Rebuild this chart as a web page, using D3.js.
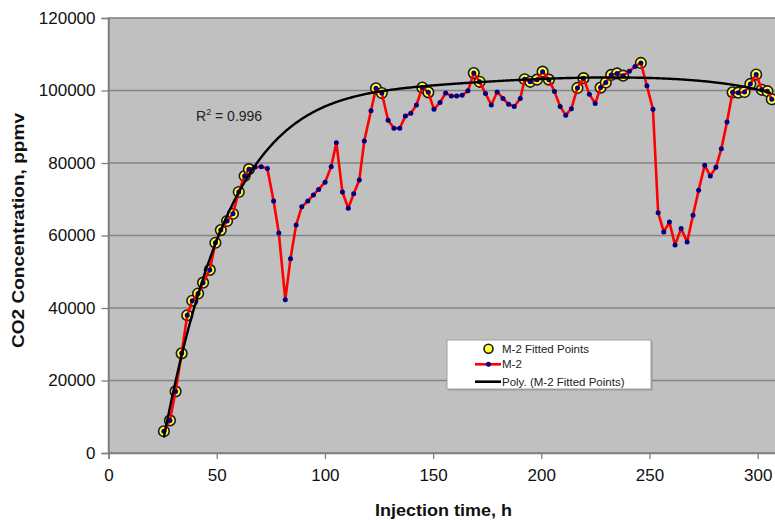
<!DOCTYPE html>
<html><head><meta charset="utf-8">
<script src="https://cdn.jsdelivr.net/npm/d3@7"></script>
<style>
html,body{margin:0;padding:0;background:#fff;}
svg{display:block;font-family:"Liberation Sans",Arial,sans-serif;}
</style></head><body>
<svg id="chart" width="775" height="521"></svg>
<script>
// M-2 monitoring well: CO2 concentration vs injection time
const hours = [25.6, 28.4, 31.0, 33.8, 36.4, 38.7, 41.4, 43.7, 46.8, 49.4, 51.9, 54.8, 57.5, 60.2, 62.9, 64.9, 67.6,
  70.6, 73.4, 76.3, 78.7, 81.7, 84.1, 86.7, 89.3, 92.1, 94.7, 97.1, 100.1, 102.9, 105.3, 108.1, 110.8, 113.3, 115.9, 118.2,
  121.3, 123.6, 126.3, 129.2, 131.9, 134.6, 137.2, 139.7, 142.3, 145.0, 147.8, 150.4, 153.2, 155.8, 158.4, 160.9, 163.4, 166.1,
  168.8, 171.5, 174.2, 176.9, 179.6, 182.3, 184.9, 187.5, 190.3, 192.3, 194.9, 198.0, 200.6, 203.5, 206.1, 208.7, 211.3, 213.9,
  216.7, 219.5, 222.2, 224.9, 227.4, 229.8, 232.3, 235.0, 237.8, 240.7, 243.3, 246.0, 248.8, 251.6, 254.0, 256.6, 259.2, 261.8,
  264.6, 267.4, 270.1, 272.7, 275.5, 278.1, 280.7, 283.2, 285.8, 288.4, 291.0, 293.9, 296.6, 299.3, 301.9, 304.5, 306.5];
const co2 = [6000, 9000, 17000, 27500, 38000, 42000, 44000, 47000, 50500, 58000, 61500, 64000, 66000, 72000, 76400, 78300, 78800,
  79000, 78500, 69500, 60700, 42300, 53600, 62900, 67900, 69500, 71200, 72700, 74700, 79000, 85600, 72000, 67500, 71500, 75300, 86100,
  94400, 100600, 99300, 91800, 89600, 89600, 93000, 93700, 96000, 100800, 99500, 94800, 96700, 99300, 98500, 98500, 98700, 99900,
  104800, 102400, 99200, 96000, 99600, 97800, 96200, 95600, 97800, 103100, 102400, 103000, 105200, 103000, 99700, 95600, 93200, 95000,
  100700, 103400, 99000, 96400, 100800, 102200, 104300, 104700, 104100, 105300, 106600, 107600, 101300, 94800, 66300, 61000, 63700, 57400,
  61900, 58200, 65600, 72500, 79400, 76400, 78800, 83900, 91300, 99500, 99400, 99600, 101800, 104400, 100200, 99800, 97600];

// Points selected for the polynomial trend
const fittedHours = [25.6, 28.4, 31.0, 33.8, 36.4, 38.7, 41.4, 43.7, 46.8, 49.4, 51.9, 54.8, 57.5, 60.2, 62.9, 64.9,
  123.6, 126.3, 145.0, 147.8, 168.8, 171.5, 192.3, 194.9, 198.0, 200.6, 203.5, 216.7, 219.5, 227.4, 229.8, 232.3, 235.0, 237.8,
  246.0, 288.4, 291.0, 293.9, 296.6, 299.3, 301.9, 304.5, 306.5];
const fittedCO2 = [6000, 9000, 17000, 27500, 38000, 42000, 44000, 47000, 50500, 58000, 61500, 64000, 66000, 72000, 76400, 78300,
  100600, 99300, 100800, 99500, 104800, 102400, 103100, 102400, 103000, 105200, 103000, 100700, 103400, 100800, 102200, 104300, 104700, 104100,
  107600, 99500, 99400, 99600, 101800, 104400, 100200, 99800, 97600];

const xTicks = [0, 50, 100, 150, 200, 250, 300];
const yTicks = [0, 20000, 40000, 60000, 80000, 100000, 120000];
const polyOrder = 6;
const rSquaredText = "0.996";
const legendLabels = ["M-2 Fitted Points", "M-2", "Poly. (M-2 Fitted Points)"];

const svg = d3.select("#chart");
const plot = {left: 108.5, top: 18, right: 865.9, bottom: 453};
const x = d3.scaleLinear().domain([0, 350]).range([plot.left, plot.right]);
const y = d3.scaleLinear().domain([0, 120000]).range([plot.bottom, plot.top]);

// least-squares polynomial trend through the selected points
function polyFit(xs, ys, order) {
  const cx = d3.mean(xs), sx = (d3.max(xs) - d3.min(xs)) / 2;
  const n = order + 1;
  const A = Array.from({length: n}, () => new Array(n + 1).fill(0));
  xs.forEach((xv, k) => {
    const t = (xv - cx) / sx;
    const p = d3.range(n).map(i => Math.pow(t, i));
    for (let i = 0; i < n; i++) {
      for (let j = 0; j < n; j++) A[i][j] += p[i] * p[j];
      A[i][n] += p[i] * ys[k];
    }
  });
  for (let c = 0; c < n; c++) {
    let piv = c;
    for (let r = c + 1; r < n; r++) if (Math.abs(A[r][c]) > Math.abs(A[piv][c])) piv = r;
    [A[c], A[piv]] = [A[piv], A[c]];
    for (let r = 0; r < n; r++) {
      if (r === c) continue;
      const f = A[r][c] / A[c][c];
      for (let k = c; k <= n; k++) A[r][k] -= f * A[c][k];
    }
  }
  const coef = d3.range(n).map(i => A[i][n] / A[i][i]);
  return h => {
    const t = (h - cx) / sx;
    let s = 0;
    for (let i = n - 1; i >= 0; i--) s = s * t + coef[i];
    return s;
  };
}

// plot area and gridlines
svg.append("rect")
  .attr("x", plot.left).attr("y", plot.top)
  .attr("width", plot.right - plot.left).attr("height", plot.bottom - plot.top)
  .attr("fill", "#c0c0c0").attr("stroke", "#7f7f7f").attr("stroke-width", 1.5);

svg.append("g").selectAll("line").data(yTicks.slice(1, -1)).join("line")
  .attr("x1", plot.left).attr("x2", plot.right)
  .attr("y1", d => y(d)).attr("y2", d => y(d))
  .attr("stroke", "#858585").attr("stroke-width", 1.6);

// axes
const xAxis = svg.append("g").attr("transform", `translate(0,${plot.bottom})`)
  .call(d3.axisBottom(x).tickValues(xTicks).tickSize(6).tickPadding(10).tickFormat(d3.format("d")));
const yAxis = svg.append("g").attr("transform", `translate(${plot.left},0)`)
  .call(d3.axisLeft(y).tickValues(yTicks).tickSize(7).tickPadding(6).tickFormat(d3.format("d")));
[xAxis, yAxis].forEach(g => {
  g.select(".domain").attr("stroke", "#7f7f7f").attr("stroke-width", 1.5);
  g.selectAll(".tick line").attr("stroke", "#7f7f7f").attr("stroke-width", 1.3);
  g.selectAll(".tick text").attr("fill", "#111").attr("font-size", 17)
    .attr("font-family", "Liberation Sans, Arial, sans-serif");
});

// axis titles
svg.append("text")
  .attr("x", 443.5).attr("y", 516).attr("text-anchor", "middle")
  .attr("font-size", 17).attr("font-weight", "bold").attr("fill", "#111")
  .attr("textLength", 137).attr("lengthAdjust", "spacingAndGlyphs")
  .text("Injection time, h");
svg.append("text")
  .attr("transform", "translate(24,230.5) rotate(-90)").attr("text-anchor", "middle")
  .attr("font-size", 17).attr("font-weight", "bold").attr("fill", "#111")
  .attr("textLength", 235).attr("lengthAdjust", "spacingAndGlyphs")
  .text("CO2 Concentration, ppmv");

// series
const m2 = hours.map((h, i) => [h, co2[i]]);
const fitted = fittedHours.map((h, i) => [h, fittedCO2[i]]);
const g = svg.append("g");

g.selectAll("circle.fit").data(fitted).join("circle").attr("class", "fit")
  .attr("cx", d => x(d[0])).attr("cy", d => y(d[1])).attr("r", 5.3)
  .attr("fill", "#ffff33").attr("stroke", "#1a1a1a").attr("stroke-width", 1.6);

g.append("path").datum(m2)
  .attr("fill", "none").attr("stroke", "#ff0000").attr("stroke-width", 2.6).attr("stroke-linejoin", "round")
  .attr("d", d3.line().x(d => x(d[0])).y(d => y(d[1])));

g.selectAll("circle.m2").data(m2).join("circle").attr("class", "m2")
  .attr("cx", d => x(d[0])).attr("cy", d => y(d[1])).attr("r", 2.5)
  .attr("fill", "#000080");

// polynomial trend line
const trend = polyFit(fittedHours, fittedCO2, polyOrder);
const hs = d3.range(d3.min(fittedHours), d3.max(fittedHours) + 0.01, 0.5);
g.append("path").datum(hs)
  .attr("fill", "none").attr("stroke", "#000").attr("stroke-width", 2.4)
  .attr("d", d3.line().x(h => x(h)).y(h => y(trend(h))));

// R-squared label
const r2 = svg.append("text").attr("x", 196).attr("y", 121).attr("font-size", 14).attr("fill", "#222");
r2.append("tspan").text("R");
r2.append("tspan").attr("font-size", 9).attr("dy", -6).text("2");
r2.append("tspan").attr("dy", 6).text(" = " + rSquaredText);

// legend
const lg = svg.append("g").attr("transform", "translate(447,340)");
lg.append("rect").attr("x", 1.5).attr("y", 1.5).attr("width", 204).attr("height", 49).attr("fill", "#9a9a9a");
lg.append("rect").attr("width", 204).attr("height", 49).attr("fill", "#fff").attr("stroke", "#a0a0a0").attr("stroke-width", 1);
const rowY = [8.7, 24.3, 41.7];
lg.append("circle").attr("cx", 41.5).attr("cy", rowY[0]).attr("r", 4.5)
  .attr("fill", "#ffff33").attr("stroke", "#1a1a1a").attr("stroke-width", 1.6);
lg.append("line").attr("x1", 28).attr("x2", 54).attr("y1", rowY[1]).attr("y2", rowY[1])
  .attr("stroke", "#ff0000").attr("stroke-width", 2.6);
lg.append("circle").attr("cx", 41.5).attr("cy", rowY[1]).attr("r", 2.5).attr("fill", "#000080");
lg.append("line").attr("x1", 28).attr("x2", 54).attr("y1", rowY[2]).attr("y2", rowY[2])
  .attr("stroke", "#000").attr("stroke-width", 2.6);
lg.selectAll("text").data(legendLabels).join("text")
  .attr("x", 55).attr("y", (d, i) => rowY[i] + 4).attr("font-size", 11.5).attr("fill", "#222")
  .text(d => d);
</script></body></html>
